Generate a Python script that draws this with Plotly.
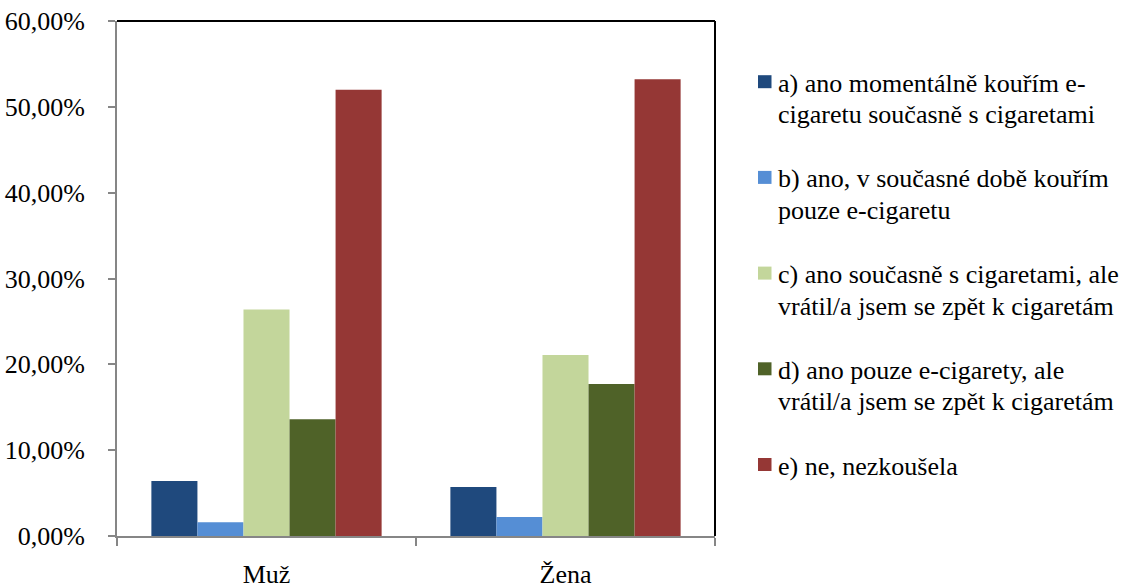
import plotly.graph_objects as go

# Survey answers by sex (share of respondents, %)
categories = ["Muž", "Žena"]
series_names = [
    "a) ano momentálně kouřím e-\ncigaretu současně s cigaretami",
    "b) ano, v současné době kouřím\npouze e-cigaretu",
    "c) ano současně s cigaretami, ale\nvrátil/a jsem se zpět k cigaretám",
    "d) ano pouze e-cigarety, ale\nvrátil/a jsem se zpět k cigaretám",
    "e) ne, nezkoušela",
]
values_a = [6.4, 5.7]
values_b = [1.6, 2.2]
values_c = [26.4, 21.1]
values_d = [13.6, 17.7]
values_e = [52.0, 53.2]
series_values = [values_a, values_b, values_c, values_d, values_e]
colors = ["#1F497D", "#558ED5", "#C3D69B", "#4F6228", "#953735"]

W, H = 1130, 588
L, R, T, B = 117, 715, 21, 536  # plot area in pixels
FONT = "'Liberation Serif', 'Times New Roman', serif"


def fx(px):
    return (px - L) / (R - L)


def fy(py):
    return (B - py) / (B - T)


fig = go.Figure()
for name, vals, col in zip(series_names, series_values, colors):
    fig.add_trace(go.Bar(
        x=categories, y=vals, name=name.replace("\n", " "),
        marker=dict(color=col, line=dict(width=0)),
        showlegend=False,
    ))

shapes = [
    # top and right frame lines
    dict(type="line", xref="paper", yref="paper", x0=0, x1=1, y0=1, y1=1,
         line=dict(color="black", width=2)),
    dict(type="line", xref="paper", yref="paper", x0=1, x1=1, y0=0, y1=1,
         line=dict(color="black", width=2)),
]
annotations = []

# hand-built legend on the right
item_top = 91.7
item_step = 95.7
line_step = 31.5
for i, (name, col) in enumerate(zip(series_names, colors)):
    base = item_top + i * item_step
    sq_c = base - 10
    shapes.append(dict(
        type="rect", xref="paper", yref="paper",
        x0=fx(758), x1=fx(771.5), y0=fy(sq_c + 6.5), y1=fy(sq_c - 6.5),
        fillcolor=col, line=dict(width=0),
    ))
    for j, line in enumerate(name.split("\n")):
        annotations.append(dict(
            xref="paper", yref="paper", x=fx(776), y=fy(base + j * line_step - 8.5),
            xanchor="left", yanchor="middle", showarrow=False, text=line,
            font=dict(family=FONT, size=26, color="black"),
        ))

fig.update_layout(
    width=W, height=H,
    margin=dict(l=L, r=W - R, t=T, b=H - B, pad=0, autoexpand=False),
    paper_bgcolor="white", plot_bgcolor="white",
    font=dict(family=FONT, size=26, color="black"),
    barmode="group", bargap=0.23, bargroupgap=0,
    separators=", ",
    shapes=shapes, annotations=annotations,
    xaxis=dict(
        automargin=False,
        showline=True, linecolor="#868686", linewidth=2,
        ticks="outside", ticklen=8, tickwidth=2, tickcolor="#868686",
        tickson="boundaries", showgrid=False, zeroline=False,
        ticklabelstandoff=14,
        tickfont=dict(family=FONT, size=26, color="black"),
    ),
    yaxis=dict(
        automargin=False,
        range=[0, 60], dtick=10, tickformat=".2f", ticksuffix="%",
        showline=True, linecolor="#868686", linewidth=2,
        ticks="outside", ticklen=7, tickwidth=2, tickcolor="#868686",
        showgrid=False, zeroline=False,
        ticklabelstandoff=18,
        tickfont=dict(family=FONT, size=26, color="black"),
    ),
)

fig.write_html("out.html")
